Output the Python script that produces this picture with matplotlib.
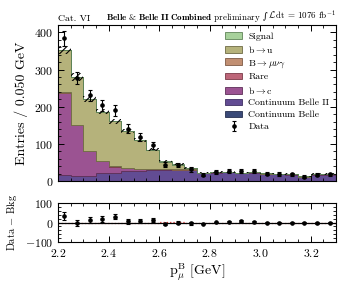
import numpy as np
import matplotlib
matplotlib.use("Agg")
import matplotlib.pyplot as plt
from matplotlib.ticker import MultipleLocator

plt.rcParams.update({
    "font.family": ["cmr10", "DejaVu Serif"],
    "mathtext.fontset": "cm",
    "axes.formatter.use_mathtext": True,
    "hatch.linewidth": 0.8,
})

# ---- data ----
bin_edges = [2.20, 2.25, 2.30, 2.35, 2.40, 2.45, 2.50, 2.55, 2.60, 2.65, 2.70, 2.75,
             2.80, 2.85, 2.90, 2.95, 3.00, 3.05, 3.10, 3.15, 3.20, 3.25, 3.30]

cont_belle = [0.5, 0.5, 0.5, 0.5, 0.5, 0.5, 0.5, 0.5, 0.5, 0.5, 0.5,
              0.5, 0.5, 0.5, 0.5, 0.5, 0.5, 0.5, 0.5, 0.5, 0.5, 0.5]
cont_belle2 = [15, 14, 12, 20, 20, 27, 27, 30, 30, 29, 29,
               20, 22, 23, 21, 22, 19, 18, 17, 11, 17, 17]
b_to_c = [221, 136, 68, 33, 18, 7, 5, 2, 1, 1, 1,
          0.5, 0.5, 0.5, 0.5, 0.5, 0.3, 0.3, 0.3, 0.3, 0.3, 0.3]
rare = [1.5, 1.2, 1.0, 0.8, 0.8, 0.6, 0.5, 0.4, 0.3, 0.3, 0.2,
        0.2, 0.2, 0.2, 0.2, 0.2, 0.2, 0.2, 0.2, 0.2, 0.2, 0.2]
b_munug = [0.3, 0.3, 0.3, 0.3, 0.3, 0.3, 0.3, 0.3, 0.5, 0.5, 0.3,
           0.1, 0.1, 0.1, 0.1, 0.1, 0.1, 0.1, 0.1, 0.1, 0.1, 0.1]
b_to_u = [114, 128, 138, 132, 121, 100, 77, 51, 19, 12, 5,
          1.0, 0.6, 0.4, 0.3, 0.2, 0.2, 0.1, 0.1, 0.1, 0.1, 0.1]
signal = [0, 0, 0, 0, 0, 0, 0, 0, 2.5, 2.5, 0,
          0, 0, 0, 0, 0, 0, 0, 0, 0, 0, 0]

data = [384, 278, 231, 204, 190, 141, 119, 96, 44, 43, 31,
        17, 24, 27, 28, 28, 20, 19, 18, 12, 17, 18]
data_err = [19.6, 16.7, 15.2, 14.3, 13.8, 11.9, 10.9, 9.8, 6.6, 6.6, 5.6,
            4.1, 4.9, 5.2, 5.3, 5.3, 4.5, 4.4, 4.2, 3.5, 4.1, 4.2]
mc_unc = [11, 10, 8, 7, 6, 5, 5, 4, 3, 3, 2.5,
          2, 2, 2, 2, 2, 2, 2, 2, 2, 2, 2]

components = [
    ("Continuum Belle", cont_belle, "#3a4a78", "#26304f"),
    ("Continuum Belle II", cont_belle2, "#624c93", "#3f2f62"),
    (r"b$\rightarrow$c", b_to_c, "#9b5392", "#5e2f58"),
    ("Rare", rare, "#bd6679", "#7a3a48"),
    (r"B$\rightarrow\mu\nu\gamma$", b_munug, "#c18f72", "#7d5a45"),
    (r"b$\rightarrow$u", b_to_u, "#b5b27b", "#6e6b45"),
    ("Signal", signal, "#a7d19b", "#5f8357"),
]

edges = np.array(bin_edges)
centers = 0.5 * (edges[:-1] + edges[1:])

W, H = 349, 291
fig = plt.figure(figsize=(W / 100, H / 100), dpi=100)
ax = fig.add_axes([58 / W, 1 - 181 / H, 278 / W, 156 / H])
rax = fig.add_axes([58 / W, 1 - 242 / H, 278 / W, 39 / H])

bottom = np.zeros(len(centers))
handles = {}
for name, vals, fc, ec in components:
    v = np.array(vals, dtype=float)
    h = ax.stairs(bottom + v, edges, baseline=bottom, fill=True,
                  facecolor=fc, edgecolor=ec, linewidth=0.6, label=name)
    handles[name] = h
    bottom = bottom + v

total = bottom
unc = np.array(mc_unc)
ax.stairs(total + unc, edges, baseline=total - unc, fill=True,
          facecolor="none", edgecolor="black", hatch="/////", linewidth=0)

dh = ax.errorbar(centers, data, yerr=data_err, fmt="o", color="black",
                 markersize=2.3, elinewidth=0.8, capsize=1.2, capthick=0.8,
                 label="Data")

ax.set_xlim(2.2, 3.3)
ax.set_ylim(0, 420)
ax.set_ylabel("Entries / 0.050 GeV", fontsize=10)
ax.tick_params(labelbottom=False)

# ratio panel
bkg = total - np.array(signal)
diff = np.array(data) - bkg
rax.axhline(0, color="black", linewidth=0.9)
rax.stairs(np.array(signal), edges, color="#e03030", linestyle=":", linewidth=0.9)
rax.errorbar(centers, diff, yerr=data_err, fmt="o", color="black",
             markersize=2.3, elinewidth=0.8, capsize=1.2, capthick=0.8)
rax.set_xlim(2.2, 3.3)
rax.set_ylim(-100, 100)
rax.set_yticks([-100, 0, 100])
rax.set_ylabel(r"Data $-$ Bkg", fontsize=7.5)
rax.set_xlabel(r"$\mathrm{p}_{\mu}^{\mathrm{B}}$ [GeV]", fontsize=10, labelpad=2)

for a in (ax, rax):
    a.tick_params(which="both", direction="in", top=True, right=True, labelsize=8.5)
    a.tick_params(which="major", length=4, width=0.7)
    a.tick_params(which="minor", length=2, width=0.6)
    a.xaxis.set_major_locator(MultipleLocator(0.2))
    a.xaxis.set_minor_locator(MultipleLocator(0.05))
    for s in a.spines.values():
        s.set_linewidth(0.8)
ax.yaxis.set_major_locator(MultipleLocator(100))
ax.yaxis.set_minor_locator(MultipleLocator(20))
rax.yaxis.set_minor_locator(MultipleLocator(20))
fig.align_ylabels([ax, rax])

order = ["Signal", r"b$\rightarrow$u", r"B$\rightarrow\mu\nu\gamma$", "Rare",
         r"b$\rightarrow$c", "Continuum Belle II", "Continuum Belle"]
leg = ax.legend([handles[n] for n in order] + [dh], order + ["Data"],
                loc="upper right", fontsize=7, frameon=False,
                handlelength=1.8, handleheight=0.7, labelspacing=0.32,
                borderaxespad=0.3, handletextpad=0.6)

ax.set_title("Cat. VI", loc="left", fontsize=7, pad=3)

# right-hand header, composed of pieces sharing one baseline
fs = 6.5
base_y = 1.0 + 5.5 / 156
t3 = ax.text(1.0, base_y, r"$\mathcal{L}\,$dt = 1076 fb$^{-1}$", transform=ax.transAxes,
             ha="right", va="baseline", fontsize=fs)
fig.canvas.draw()
r = fig.canvas.get_renderer()
inv = ax.transAxes.inverted()
x3 = inv.transform((t3.get_window_extent(r).x0, 0))[0]
t2 = ax.text(x3 - 0.002, base_y, "\u222b", transform=ax.transAxes, ha="right",
             va="baseline", fontsize=fs, family="DejaVu Serif", style="italic")
fig.canvas.draw()
x2 = inv.transform((t2.get_window_extent(r).x0, 0))[0]
ax.text(x2 - 0.006, base_y, r"$\mathbf{Belle\ &\ Belle\ II\ Combined}$ preliminary",
        transform=ax.transAxes, ha="right", va="baseline", fontsize=fs)

fig.savefig("out.png", dpi=100)
